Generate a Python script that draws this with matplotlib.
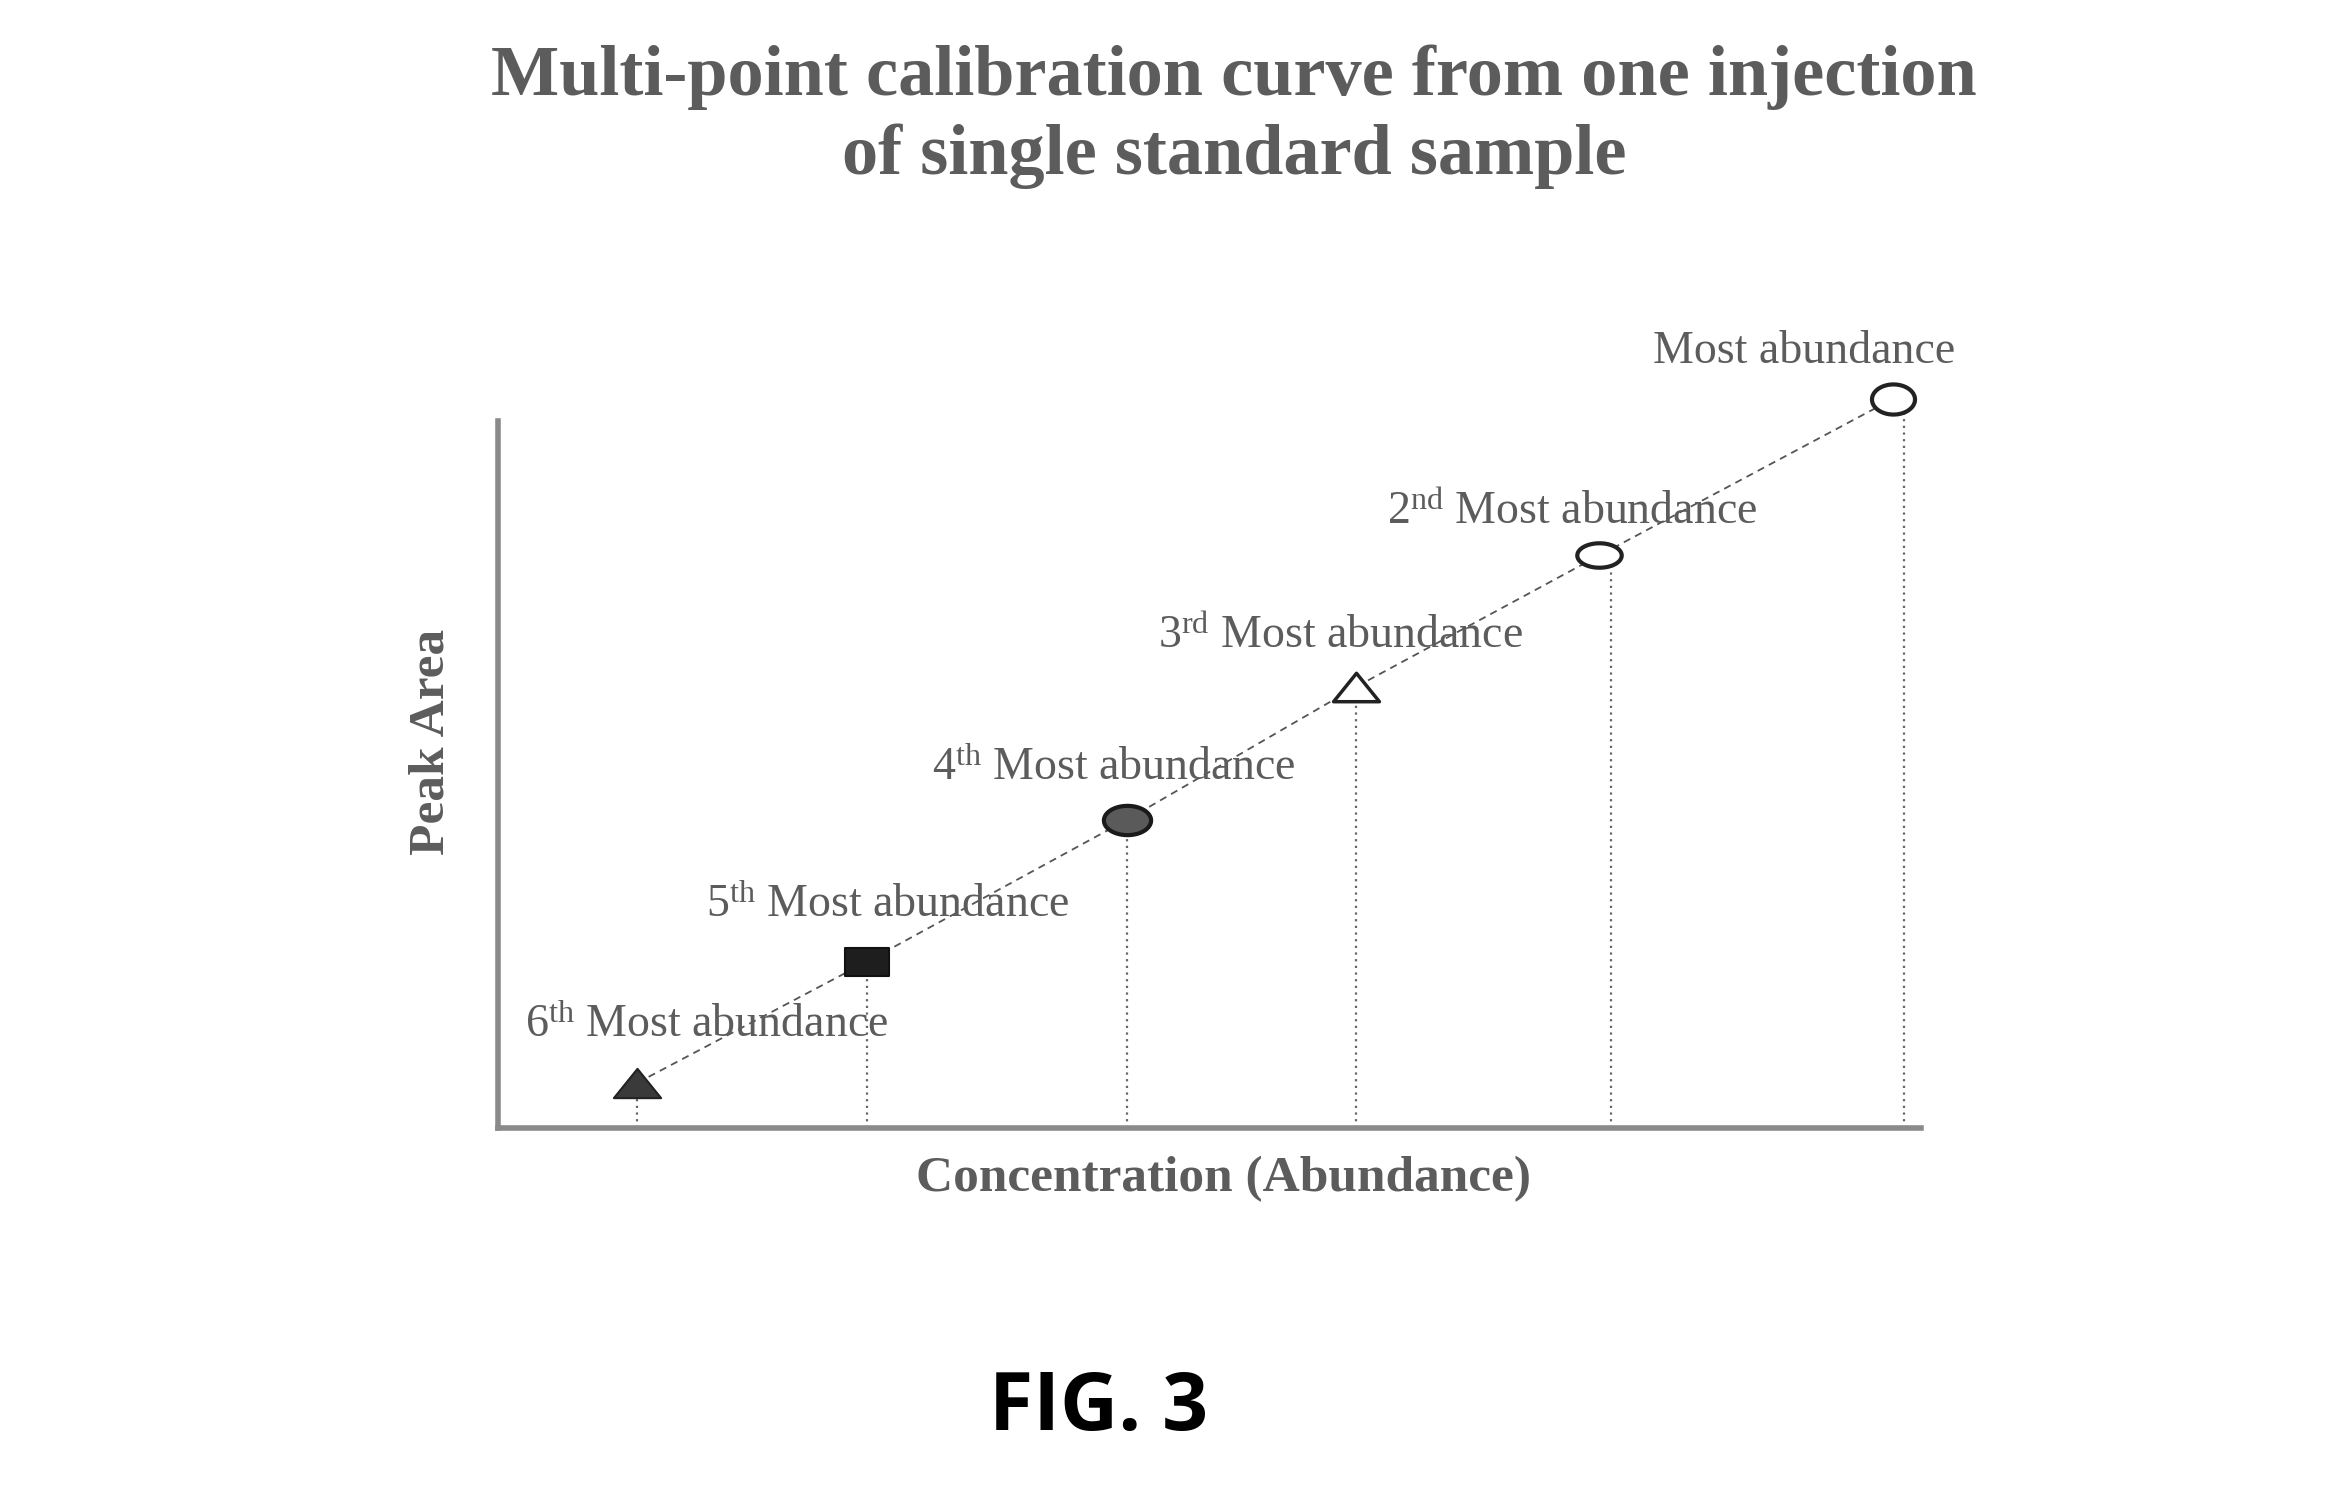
import matplotlib
matplotlib.use("Agg")
import matplotlib.pyplot as plt
import numpy as np
from matplotlib.path import Path

# ---------------- data ----------------
labels = [r"6$^{\mathrm{th}}$ Most abundance", r"5$^{\mathrm{th}}$ Most abundance",
          r"4$^{\mathrm{th}}$ Most abundance", r"3$^{\mathrm{rd}}$ Most abundance",
          r"2$^{\mathrm{nd}}$ Most abundance", "Most abundance"]
conc = [9.8, 25.9, 44.2, 60.3, 77.4, 98.0]          # concentration (abundance), arbitrary units
peak_area = [6.4, 23.5, 43.6, 62.4, 81.0, 103.1]    # peak area, arbitrary units
drop_x = [9.8, 25.9, 44.2, 60.3, 78.2, 98.8]         # x of the dotted drop lines

title_lines = ["Multi-point calibration curve from one injection",
               "of single standard sample"]
xlabel = "Concentration (Abundance)"
ylabel = "Peak Area"
fig_label = "FIG. 3"

# ---------------- styles ----------------
plt.rcParams['mathtext.fontset'] = 'custom'
plt.rcParams['mathtext.rm'] = 'Liberation Serif'
plt.rcParams['mathtext.it'] = 'Liberation Serif:italic'
plt.rcParams['mathtext.bf'] = 'Liberation Serif:bold'

TXT = '#5c5c5c'
LINE = '#666666'

def poly_marker(pts):
    pts = list(pts) + [pts[0]]
    codes = [Path.MOVETO] + [Path.LINETO] * (len(pts) - 2) + [Path.CLOSEPOLY]
    return Path(pts, codes)

def ellipse_marker(ry):
    t = np.linspace(0, 2 * np.pi, 60)
    v = np.column_stack([np.cos(t), ry * np.sin(t)])
    return Path(v, closed=True)

tri = poly_marker([(-1, -0.62), (1, -0.62), (0, 0.62)])
rect = poly_marker([(-1, -0.63), (1, -0.63), (1, 0.63), (-1, 0.63)])
ell = ellipse_marker(0.62)
ell2 = ellipse_marker(0.55)
ell3 = ellipse_marker(0.70)

marker_styles = [
    dict(marker=tri, ms=34, mfc='#3a3a3a', mec='#222222', mew=1.5),
    dict(marker=rect, ms=31, mfc='#1e1e1e', mec='#111111', mew=1.5),
    dict(marker=ell, ms=34, mfc='#5a5a5a', mec='#1a1a1a', mew=3),
    dict(marker=tri, ms=33, mfc='white', mec='#222222', mew=2.5),
    dict(marker=ell2, ms=32, mfc='white', mec='#222222', mew=3),
    dict(marker=ell3, ms=31, mfc='white', mec='#222222', mew=3),
]
label_offsets = [(69, 57), (21, 56), (-13, 51), (-16, 50), (-27, 43), (-88, 47)]  # pixels

# ---------------- figure ----------------
W, H = 2332, 1485
fig = plt.figure(figsize=(W / 100, H / 100), dpi=100)
fig.patch.set_facecolor('white')

ax = fig.add_axes([498 / W, 1 - 1128 / H, (1921 - 498) / W, (1128 - 421) / H])
ax.set_xlim(0, 100)
ax.set_ylim(0, 100)
ax.set_facecolor('none')
for s in ['top', 'right']:
    ax.spines[s].set_visible(False)
for s in ['left', 'bottom']:
    ax.spines[s].set_linewidth(4)
    ax.spines[s].set_color('#8a8a8a')
ax.set_xticks([])
ax.set_yticks([])

# drop lines
ax.vlines(drop_x, 0, peak_area, colors=LINE, linestyles=(0, (1, 2)), linewidth=1.6,
          clip_on=False, zorder=2)

# dashed calibration line
ax.plot(conc, peak_area, linestyle=(0, (4, 3)), color='#555555', linewidth=1.3,
        clip_on=False, zorder=2)

# markers
for x, y, st in zip(conc, peak_area, marker_styles):
    ax.plot([x], [y], linestyle='none', clip_on=False, zorder=4, **st)

# labels
for x, y, lab, off in zip(conc, peak_area, labels, label_offsets):
    ax.annotate(lab, (x, y), xytext=off, textcoords='offset pixels',
                ha='center', va='center', fontsize=33, color=TXT,
                family='Liberation Serif', zorder=3, annotation_clip=False)

# axis labels
fig.text(1223 / W, 1 - 1179 / H, xlabel, ha='center', va='center', fontsize=37,
         fontweight='bold', family='Liberation Serif', color=TXT)
fig.text(431 / W, 1 - 742 / H, ylabel, ha='center', va='center', fontsize=37,
         fontweight='bold', family='Liberation Serif', color=TXT, rotation=90)

# title
fig.text(1234 / W, 1 - 77 / H, title_lines[0], ha='center', va='center', fontsize=52,
         fontweight='bold', family='Liberation Serif', color=TXT)
fig.text(1234 / W, 1 - 156 / H, title_lines[1], ha='center', va='center', fontsize=52,
         fontweight='bold', family='Liberation Serif', color=TXT)

# figure caption
fig.text(1099 / W, 1 - 1409 / H, fig_label, ha='center', va='center', fontsize=58,
         fontweight='bold', family='Open Sans', color='black')

fig.savefig('out.png', dpi=100, facecolor='white')
